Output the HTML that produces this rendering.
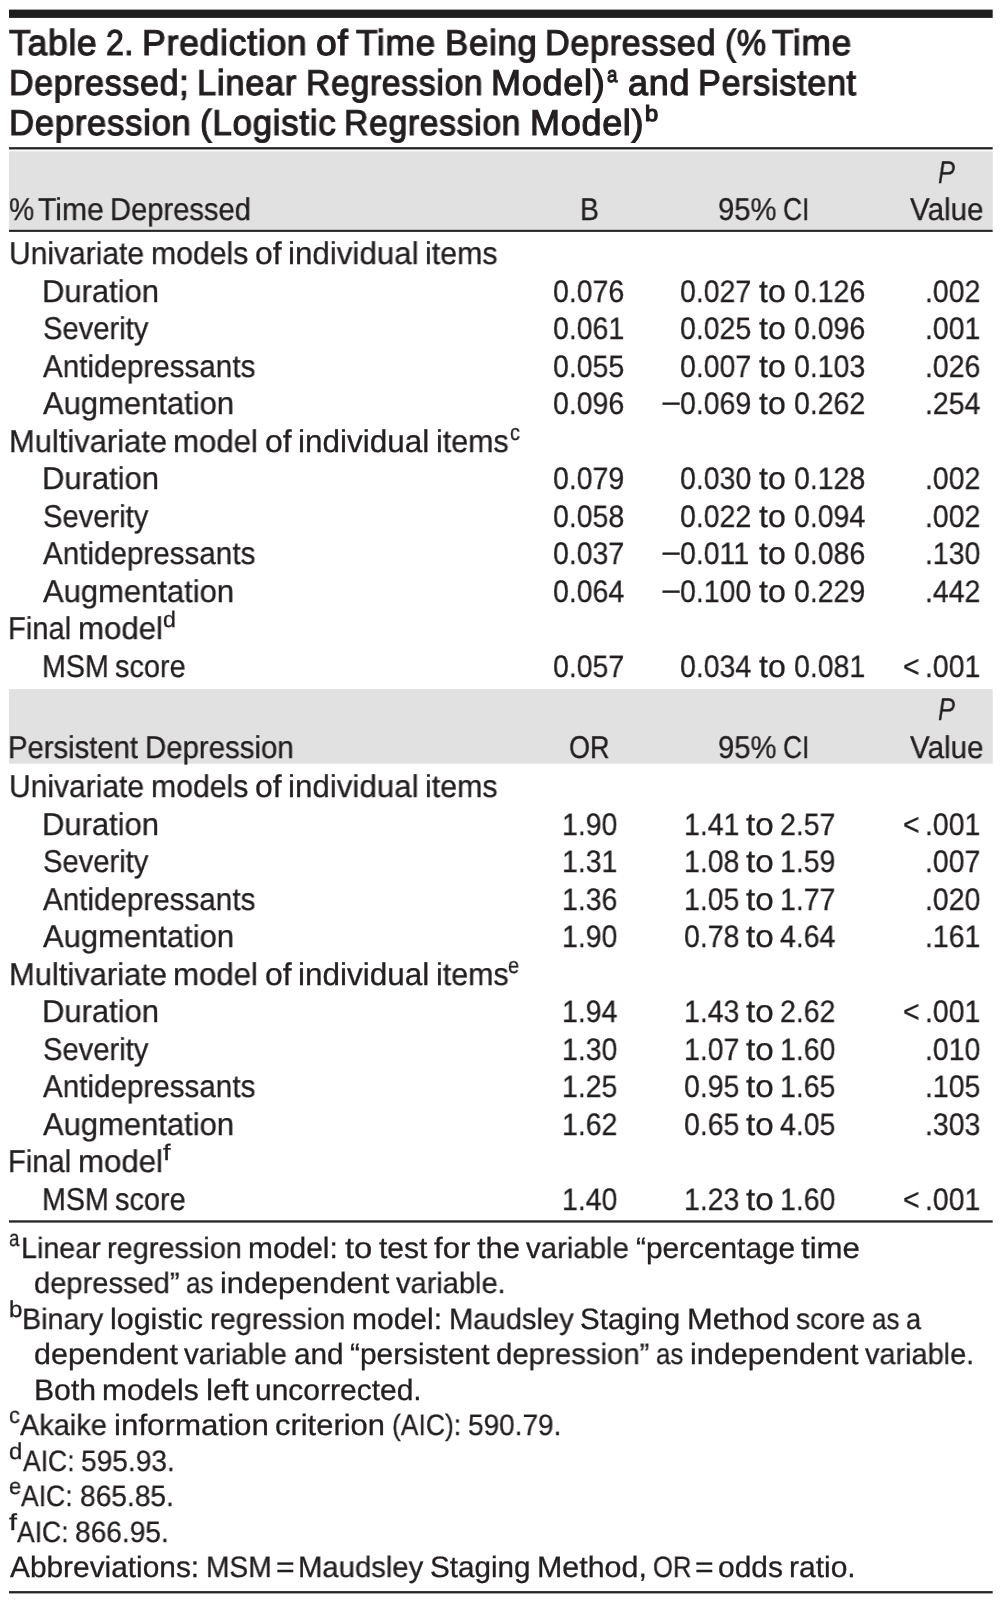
<!DOCTYPE html>
<html lang="en"><head><meta charset="utf-8"><title>Table 2</title>
<style>
html,body{margin:0;padding:0;background:#fff;}
body{width:1001px;height:1602px;position:relative;overflow:hidden;font-family:"Liberation Sans",sans-serif;color:#231f20;}
.t{position:absolute;white-space:pre;transform-origin:0 0;line-height:1;text-rendering:geometricPrecision;font-kerning:normal;will-change:transform;}
.r{position:absolute;}
</style></head><body>
<svg class="r" style="left:0;top:0" width="1001" height="1602" viewBox="0 0 1001 1602">
<rect x="9" y="9.6" width="983.7" height="8.3" fill="#1f1e1e"/>
<rect x="9" y="147.15" width="983.7" height="2.3" fill="#262525"/>
<rect x="9" y="151.3" width="983.7" height="78.6" fill="#e1e1e1"/>
<rect x="9" y="229.8" width="983.7" height="2.1" fill="#262525"/>
<rect x="9" y="689.1" width="983.7" height="74.6" fill="#e1e1e1"/>
<rect x="9" y="1220.3" width="983.7" height="2.3" fill="#262525"/>
<rect x="9" y="1591.1" width="983.7" height="2.3" fill="#262525"/>
</svg>
<div class="t" style="left:9.29px;top:25.00px;font-size:36px;-webkit-text-stroke:1.2px #231f20;letter-spacing:0.7px;transform:scaleX(0.9874);color:#231f20">Table</div>
<div class="t" style="left:105.93px;top:25.00px;font-size:36px;-webkit-text-stroke:1.2px #231f20;letter-spacing:0.7px;transform:scaleX(0.8863);color:#231f20">2.</div>
<div class="t" style="left:142.00px;top:25.00px;font-size:36px;-webkit-text-stroke:1.2px #231f20;letter-spacing:0.7px;transform:scaleX(0.9901);color:#231f20">Prediction</div>
<div class="t" style="left:315.65px;top:25.00px;font-size:36px;-webkit-text-stroke:1.2px #231f20;letter-spacing:0.7px;transform:scaleX(1.0353);color:#231f20">of</div>
<div class="t" style="left:356.40px;top:25.00px;font-size:36px;-webkit-text-stroke:1.2px #231f20;letter-spacing:0.7px;transform:scaleX(0.9814);color:#231f20">Time</div>
<div class="t" style="left:444.56px;top:25.00px;font-size:36px;-webkit-text-stroke:1.2px #231f20;letter-spacing:0.7px;transform:scaleX(0.9681);color:#231f20">Being</div>
<div class="t" style="left:545.30px;top:25.00px;font-size:36px;-webkit-text-stroke:1.2px #231f20;letter-spacing:0.7px;transform:scaleX(0.9484);color:#231f20">Depressed</div>
<div class="t" style="left:724.60px;top:25.00px;font-size:36px;-webkit-text-stroke:1.2px #231f20;letter-spacing:0.7px;transform:scaleX(0.9171);color:#231f20">(%</div>
<div class="t" style="left:772.04px;top:25.00px;font-size:36px;-webkit-text-stroke:1.2px #231f20;letter-spacing:0.7px;transform:scaleX(0.9814);color:#231f20">Time</div>
<div class="t" style="left:8.93px;top:65.00px;font-size:36px;-webkit-text-stroke:1.2px #231f20;letter-spacing:0.7px;transform:scaleX(0.9427);color:#231f20">Depressed;</div>
<div class="t" style="left:197.34px;top:65.00px;font-size:36px;-webkit-text-stroke:1.2px #231f20;letter-spacing:0.7px;transform:scaleX(0.9597);color:#231f20">Linear</div>
<div class="t" style="left:305.67px;top:65.00px;font-size:36px;-webkit-text-stroke:1.2px #231f20;letter-spacing:0.7px;transform:scaleX(0.9379);color:#231f20">Regression</div>
<div class="t" style="left:491.27px;top:65.00px;font-size:36px;-webkit-text-stroke:1.2px #231f20;letter-spacing:0.7px;transform:scaleX(1.0010);color:#231f20">Model)</div>
<div class="t" style="left:607.02px;top:64.00px;font-size:22px;-webkit-text-stroke:1.2px #231f20;letter-spacing:0.7px;transform:scaleX(0.8483);color:#231f20">a</div>
<div class="t" style="left:628.07px;top:65.00px;font-size:36px;-webkit-text-stroke:1.2px #231f20;letter-spacing:0.7px;transform:scaleX(0.9962);color:#231f20">and</div>
<div class="t" style="left:698.21px;top:65.00px;font-size:36px;-webkit-text-stroke:1.2px #231f20;letter-spacing:0.7px;transform:scaleX(0.9502);color:#231f20">Persistent</div>
<div class="t" style="left:8.94px;top:105.00px;font-size:36px;-webkit-text-stroke:1.2px #231f20;letter-spacing:0.7px;transform:scaleX(0.9651);color:#231f20">Depression</div>
<div class="t" style="left:199.67px;top:105.00px;font-size:36px;-webkit-text-stroke:1.2px #231f20;letter-spacing:0.7px;transform:scaleX(0.9714);color:#231f20">(Logistic</div>
<div class="t" style="left:344.25px;top:105.00px;font-size:36px;-webkit-text-stroke:1.2px #231f20;letter-spacing:0.7px;transform:scaleX(0.9367);color:#231f20">Regression</div>
<div class="t" style="left:529.62px;top:105.00px;font-size:36px;-webkit-text-stroke:1.2px #231f20;letter-spacing:0.7px;transform:scaleX(0.9997);color:#231f20">Model)</div>
<div class="t" style="left:645.42px;top:103.00px;font-size:22px;-webkit-text-stroke:1.2px #231f20;letter-spacing:0.7px;transform:scaleX(1.0767);color:#231f20">b</div>
<div class="t" style="left:8.94px;top:194.00px;font-size:31.5px;-webkit-text-stroke:0.3px #231f20;transform:scaleX(0.9012);color:#231f20">%</div>
<div class="t" style="left:37.86px;top:194.00px;font-size:31.5px;-webkit-text-stroke:0.3px #231f20;transform:scaleX(0.9567);color:#231f20">Time</div>
<div class="t" style="left:110.48px;top:194.00px;font-size:31.5px;-webkit-text-stroke:0.3px #231f20;transform:scaleX(0.9251);color:#231f20">Depressed</div>
<div class="t" style="left:579.77px;top:194.00px;font-size:31.5px;-webkit-text-stroke:0.3px #231f20;transform:scaleX(0.9004);color:#231f20">B</div>
<div class="t" style="left:717.80px;top:194.00px;font-size:31.5px;-webkit-text-stroke:0.3px #231f20;transform:scaleX(0.9288);color:#231f20">95%</div>
<div class="t" style="left:783.18px;top:194.00px;font-size:31.5px;-webkit-text-stroke:0.3px #231f20;transform:scaleX(0.8375);color:#231f20">CI</div>
<div class="t" style="left:938.42px;top:157.00px;font-size:31.5px;font-style:italic;-webkit-text-stroke:0.3px #231f20;transform:scaleX(0.8062);color:#231f20">P</div>
<div class="t" style="left:910.07px;top:194.00px;font-size:31.5px;-webkit-text-stroke:0.3px #231f20;transform:scaleX(0.9388);color:#231f20">Value</div>
<div class="t" style="left:8.38px;top:732.00px;font-size:31.5px;-webkit-text-stroke:0.3px #231f20;transform:scaleX(0.9286);color:#231f20">Persistent</div>
<div class="t" style="left:145.16px;top:732.00px;font-size:31.5px;-webkit-text-stroke:0.3px #231f20;transform:scaleX(0.9335);color:#231f20">Depression</div>
<div class="t" style="left:568.72px;top:732.00px;font-size:31.5px;-webkit-text-stroke:0.3px #231f20;transform:scaleX(0.8578);color:#231f20">OR</div>
<div class="t" style="left:717.80px;top:732.00px;font-size:31.5px;-webkit-text-stroke:0.3px #231f20;transform:scaleX(0.9288);color:#231f20">95%</div>
<div class="t" style="left:783.18px;top:732.00px;font-size:31.5px;-webkit-text-stroke:0.3px #231f20;transform:scaleX(0.8375);color:#231f20">CI</div>
<div class="t" style="left:938.42px;top:694.00px;font-size:31.5px;font-style:italic;-webkit-text-stroke:0.3px #231f20;transform:scaleX(0.8062);color:#231f20">P</div>
<div class="t" style="left:910.07px;top:732.00px;font-size:31.5px;-webkit-text-stroke:0.3px #231f20;transform:scaleX(0.9388);color:#231f20">Value</div>
<div class="t" style="left:8.73px;top:238.00px;font-size:31.5px;-webkit-text-stroke:0.3px #231f20;transform:scaleX(0.9527);color:#231f20">Univariate</div>
<div class="t" style="left:150.53px;top:238.00px;font-size:31.5px;-webkit-text-stroke:0.3px #231f20;transform:scaleX(0.9588);color:#231f20">models</div>
<div class="t" style="left:254.59px;top:238.00px;font-size:31.5px;-webkit-text-stroke:0.3px #231f20;transform:scaleX(1.0115);color:#231f20">of</div>
<div class="t" style="left:287.88px;top:238.00px;font-size:31.5px;-webkit-text-stroke:0.3px #231f20;transform:scaleX(0.9951);color:#231f20">individual</div>
<div class="t" style="left:425.29px;top:238.00px;font-size:31.5px;-webkit-text-stroke:0.3px #231f20;transform:scaleX(0.9643);color:#231f20">items</div>
<div class="t" style="left:42.06px;top:276.00px;font-size:31.5px;-webkit-text-stroke:0.3px #231f20;transform:scaleX(0.9830);color:#231f20">Duration</div>
<div class="t" style="left:42.68px;top:313.00px;font-size:31.5px;-webkit-text-stroke:0.3px #231f20;transform:scaleX(0.9261);color:#231f20">Severity</div>
<div class="t" style="left:43.04px;top:351.00px;font-size:31.5px;-webkit-text-stroke:0.3px #231f20;transform:scaleX(0.9400);color:#231f20">Antidepressants</div>
<div class="t" style="left:43.04px;top:388.00px;font-size:31.5px;-webkit-text-stroke:0.3px #231f20;transform:scaleX(0.9834);color:#231f20">Augmentation</div>
<div class="t" style="left:42.06px;top:463.00px;font-size:31.5px;-webkit-text-stroke:0.3px #231f20;transform:scaleX(0.9830);color:#231f20">Duration</div>
<div class="t" style="left:42.68px;top:501.00px;font-size:31.5px;-webkit-text-stroke:0.3px #231f20;transform:scaleX(0.9261);color:#231f20">Severity</div>
<div class="t" style="left:43.04px;top:538.00px;font-size:31.5px;-webkit-text-stroke:0.3px #231f20;transform:scaleX(0.9400);color:#231f20">Antidepressants</div>
<div class="t" style="left:43.04px;top:576.00px;font-size:31.5px;-webkit-text-stroke:0.3px #231f20;transform:scaleX(0.9834);color:#231f20">Augmentation</div>
<div class="t" style="left:8.59px;top:426.00px;font-size:31.5px;-webkit-text-stroke:0.3px #231f20;transform:scaleX(0.9813);color:#231f20">Multivariate</div>
<div class="t" style="left:173.35px;top:426.00px;font-size:31.5px;-webkit-text-stroke:0.3px #231f20;transform:scaleX(0.9901);color:#231f20">model</div>
<div class="t" style="left:265.00px;top:426.00px;font-size:31.5px;-webkit-text-stroke:0.3px #231f20;transform:scaleX(1.0127);color:#231f20">of</div>
<div class="t" style="left:298.32px;top:426.00px;font-size:31.5px;-webkit-text-stroke:0.3px #231f20;transform:scaleX(0.9964);color:#231f20">individual</div>
<div class="t" style="left:435.90px;top:426.00px;font-size:31.5px;-webkit-text-stroke:0.3px #231f20;transform:scaleX(0.9654);color:#231f20">items</div>
<div class="t" style="left:510.06px;top:422.00px;font-size:22.5px;-webkit-text-stroke:0.3px #231f20;transform:scaleX(0.8800);color:#231f20">c</div>
<div class="t" style="left:8.08px;top:613.00px;font-size:31.5px;-webkit-text-stroke:0.3px #231f20;transform:scaleX(0.9250);color:#231f20">Final</div>
<div class="t" style="left:77.96px;top:613.00px;font-size:31.5px;-webkit-text-stroke:0.3px #231f20;transform:scaleX(0.9909);color:#231f20">model</div>
<div class="t" style="left:162.83px;top:609.00px;font-size:22.5px;-webkit-text-stroke:0.3px #231f20;transform:scaleX(1.0276);color:#231f20">d</div>
<div class="t" style="left:41.57px;top:651.00px;font-size:31.5px;-webkit-text-stroke:0.3px #231f20;transform:scaleX(0.9094);color:#231f20">MSM</div>
<div class="t" style="left:115.16px;top:651.00px;font-size:31.5px;-webkit-text-stroke:0.3px #231f20;transform:scaleX(0.9173);color:#231f20">score</div>
<div class="t" style="left:553.49px;top:276.00px;font-size:31px;-webkit-text-stroke:0.3px #231f20;transform:scaleX(0.9194);color:#231f20">0.076</div>
<div class="t" style="left:680.39px;top:276.00px;font-size:31px;-webkit-text-stroke:0.3px #231f20;transform:scaleX(0.9194);color:#231f20">0.027</div>
<div class="t" style="left:758.92px;top:276.00px;font-size:31.5px;-webkit-text-stroke:0.3px #231f20;transform:scaleX(1.0171);color:#231f20">to</div>
<div class="t" style="left:793.69px;top:276.00px;font-size:31px;-webkit-text-stroke:0.3px #231f20;transform:scaleX(0.9194);color:#231f20">0.126</div>
<div class="t" style="left:925.20px;top:276.00px;font-size:31px;-webkit-text-stroke:0.3px #231f20;transform:scaleX(0.9194);color:#231f20">.002</div>
<div class="t" style="left:553.49px;top:313.00px;font-size:31px;-webkit-text-stroke:0.3px #231f20;transform:scaleX(0.9194);color:#231f20">0.061</div>
<div class="t" style="left:680.39px;top:313.00px;font-size:31px;-webkit-text-stroke:0.3px #231f20;transform:scaleX(0.9194);color:#231f20">0.025</div>
<div class="t" style="left:758.92px;top:313.00px;font-size:31.5px;-webkit-text-stroke:0.3px #231f20;transform:scaleX(1.0171);color:#231f20">to</div>
<div class="t" style="left:793.69px;top:313.00px;font-size:31px;-webkit-text-stroke:0.3px #231f20;transform:scaleX(0.9194);color:#231f20">0.096</div>
<div class="t" style="left:925.20px;top:313.00px;font-size:31px;-webkit-text-stroke:0.3px #231f20;transform:scaleX(0.9194);color:#231f20">.001</div>
<div class="t" style="left:553.49px;top:351.00px;font-size:31px;-webkit-text-stroke:0.3px #231f20;transform:scaleX(0.9194);color:#231f20">0.055</div>
<div class="t" style="left:680.39px;top:351.00px;font-size:31px;-webkit-text-stroke:0.3px #231f20;transform:scaleX(0.9194);color:#231f20">0.007</div>
<div class="t" style="left:758.92px;top:351.00px;font-size:31.5px;-webkit-text-stroke:0.3px #231f20;transform:scaleX(1.0171);color:#231f20">to</div>
<div class="t" style="left:793.69px;top:351.00px;font-size:31px;-webkit-text-stroke:0.3px #231f20;transform:scaleX(0.9194);color:#231f20">0.103</div>
<div class="t" style="left:925.20px;top:351.00px;font-size:31px;-webkit-text-stroke:0.3px #231f20;transform:scaleX(0.9194);color:#231f20">.026</div>
<div class="t" style="left:553.49px;top:388.00px;font-size:31px;-webkit-text-stroke:0.3px #231f20;transform:scaleX(0.9194);color:#231f20">0.096</div>
<div class="t" style="left:661.30px;top:388.00px;font-size:31px;-webkit-text-stroke:0.3px #231f20;transform:scaleX(1.1150);color:#231f20">−</div>
<div class="t" style="left:680.39px;top:388.00px;font-size:31px;-webkit-text-stroke:0.3px #231f20;transform:scaleX(0.9194);color:#231f20">0.069</div>
<div class="t" style="left:758.92px;top:388.00px;font-size:31.5px;-webkit-text-stroke:0.3px #231f20;transform:scaleX(1.0171);color:#231f20">to</div>
<div class="t" style="left:793.69px;top:388.00px;font-size:31px;-webkit-text-stroke:0.3px #231f20;transform:scaleX(0.9194);color:#231f20">0.262</div>
<div class="t" style="left:925.20px;top:388.00px;font-size:31px;-webkit-text-stroke:0.3px #231f20;transform:scaleX(0.9194);color:#231f20">.254</div>
<div class="t" style="left:553.49px;top:463.00px;font-size:31px;-webkit-text-stroke:0.3px #231f20;transform:scaleX(0.9194);color:#231f20">0.079</div>
<div class="t" style="left:680.39px;top:463.00px;font-size:31px;-webkit-text-stroke:0.3px #231f20;transform:scaleX(0.9194);color:#231f20">0.030</div>
<div class="t" style="left:758.92px;top:463.00px;font-size:31.5px;-webkit-text-stroke:0.3px #231f20;transform:scaleX(1.0171);color:#231f20">to</div>
<div class="t" style="left:793.69px;top:463.00px;font-size:31px;-webkit-text-stroke:0.3px #231f20;transform:scaleX(0.9194);color:#231f20">0.128</div>
<div class="t" style="left:925.20px;top:463.00px;font-size:31px;-webkit-text-stroke:0.3px #231f20;transform:scaleX(0.9194);color:#231f20">.002</div>
<div class="t" style="left:553.49px;top:501.00px;font-size:31px;-webkit-text-stroke:0.3px #231f20;transform:scaleX(0.9194);color:#231f20">0.058</div>
<div class="t" style="left:680.39px;top:501.00px;font-size:31px;-webkit-text-stroke:0.3px #231f20;transform:scaleX(0.9194);color:#231f20">0.022</div>
<div class="t" style="left:758.92px;top:501.00px;font-size:31.5px;-webkit-text-stroke:0.3px #231f20;transform:scaleX(1.0171);color:#231f20">to</div>
<div class="t" style="left:793.69px;top:501.00px;font-size:31px;-webkit-text-stroke:0.3px #231f20;transform:scaleX(0.9194);color:#231f20">0.094</div>
<div class="t" style="left:925.20px;top:501.00px;font-size:31px;-webkit-text-stroke:0.3px #231f20;transform:scaleX(0.9194);color:#231f20">.002</div>
<div class="t" style="left:553.49px;top:538.00px;font-size:31px;-webkit-text-stroke:0.3px #231f20;transform:scaleX(0.9194);color:#231f20">0.037</div>
<div class="t" style="left:661.30px;top:538.00px;font-size:31px;-webkit-text-stroke:0.3px #231f20;transform:scaleX(1.1150);color:#231f20">−</div>
<div class="t" style="left:680.39px;top:538.00px;font-size:31px;-webkit-text-stroke:0.3px #231f20;transform:scaleX(0.9194);color:#231f20">0.011</div>
<div class="t" style="left:758.92px;top:538.00px;font-size:31.5px;-webkit-text-stroke:0.3px #231f20;transform:scaleX(1.0171);color:#231f20">to</div>
<div class="t" style="left:793.69px;top:538.00px;font-size:31px;-webkit-text-stroke:0.3px #231f20;transform:scaleX(0.9194);color:#231f20">0.086</div>
<div class="t" style="left:925.20px;top:538.00px;font-size:31px;-webkit-text-stroke:0.3px #231f20;transform:scaleX(0.9194);color:#231f20">.130</div>
<div class="t" style="left:553.49px;top:576.00px;font-size:31px;-webkit-text-stroke:0.3px #231f20;transform:scaleX(0.9194);color:#231f20">0.064</div>
<div class="t" style="left:661.30px;top:576.00px;font-size:31px;-webkit-text-stroke:0.3px #231f20;transform:scaleX(1.1150);color:#231f20">−</div>
<div class="t" style="left:680.39px;top:576.00px;font-size:31px;-webkit-text-stroke:0.3px #231f20;transform:scaleX(0.9194);color:#231f20">0.100</div>
<div class="t" style="left:758.92px;top:576.00px;font-size:31.5px;-webkit-text-stroke:0.3px #231f20;transform:scaleX(1.0171);color:#231f20">to</div>
<div class="t" style="left:793.69px;top:576.00px;font-size:31px;-webkit-text-stroke:0.3px #231f20;transform:scaleX(0.9194);color:#231f20">0.229</div>
<div class="t" style="left:925.20px;top:576.00px;font-size:31px;-webkit-text-stroke:0.3px #231f20;transform:scaleX(0.9194);color:#231f20">.442</div>
<div class="t" style="left:553.49px;top:651.00px;font-size:31px;-webkit-text-stroke:0.3px #231f20;transform:scaleX(0.9194);color:#231f20">0.057</div>
<div class="t" style="left:680.39px;top:651.00px;font-size:31px;-webkit-text-stroke:0.3px #231f20;transform:scaleX(0.9194);color:#231f20">0.034</div>
<div class="t" style="left:758.92px;top:651.00px;font-size:31.5px;-webkit-text-stroke:0.3px #231f20;transform:scaleX(1.0171);color:#231f20">to</div>
<div class="t" style="left:793.69px;top:651.00px;font-size:31px;-webkit-text-stroke:0.3px #231f20;transform:scaleX(0.9194);color:#231f20">0.081</div>
<div class="t" style="left:903.40px;top:651.00px;font-size:31px;-webkit-text-stroke:0.3px #231f20;transform:scaleX(0.9159);color:#231f20">&lt;</div>
<div class="t" style="left:925.20px;top:651.00px;font-size:31px;-webkit-text-stroke:0.3px #231f20;transform:scaleX(0.9194);color:#231f20">.001</div>
<div class="t" style="left:8.73px;top:771.00px;font-size:31.5px;-webkit-text-stroke:0.3px #231f20;transform:scaleX(0.9527);color:#231f20">Univariate</div>
<div class="t" style="left:150.53px;top:771.00px;font-size:31.5px;-webkit-text-stroke:0.3px #231f20;transform:scaleX(0.9588);color:#231f20">models</div>
<div class="t" style="left:254.59px;top:771.00px;font-size:31.5px;-webkit-text-stroke:0.3px #231f20;transform:scaleX(1.0115);color:#231f20">of</div>
<div class="t" style="left:287.88px;top:771.00px;font-size:31.5px;-webkit-text-stroke:0.3px #231f20;transform:scaleX(0.9951);color:#231f20">individual</div>
<div class="t" style="left:425.29px;top:771.00px;font-size:31.5px;-webkit-text-stroke:0.3px #231f20;transform:scaleX(0.9643);color:#231f20">items</div>
<div class="t" style="left:42.06px;top:809.00px;font-size:31.5px;-webkit-text-stroke:0.3px #231f20;transform:scaleX(0.9830);color:#231f20">Duration</div>
<div class="t" style="left:42.68px;top:846.00px;font-size:31.5px;-webkit-text-stroke:0.3px #231f20;transform:scaleX(0.9261);color:#231f20">Severity</div>
<div class="t" style="left:43.04px;top:884.00px;font-size:31.5px;-webkit-text-stroke:0.3px #231f20;transform:scaleX(0.9400);color:#231f20">Antidepressants</div>
<div class="t" style="left:43.04px;top:921.00px;font-size:31.5px;-webkit-text-stroke:0.3px #231f20;transform:scaleX(0.9834);color:#231f20">Augmentation</div>
<div class="t" style="left:42.06px;top:996.00px;font-size:31.5px;-webkit-text-stroke:0.3px #231f20;transform:scaleX(0.9830);color:#231f20">Duration</div>
<div class="t" style="left:42.68px;top:1034.00px;font-size:31.5px;-webkit-text-stroke:0.3px #231f20;transform:scaleX(0.9261);color:#231f20">Severity</div>
<div class="t" style="left:43.04px;top:1071.00px;font-size:31.5px;-webkit-text-stroke:0.3px #231f20;transform:scaleX(0.9400);color:#231f20">Antidepressants</div>
<div class="t" style="left:43.04px;top:1109.00px;font-size:31.5px;-webkit-text-stroke:0.3px #231f20;transform:scaleX(0.9834);color:#231f20">Augmentation</div>
<div class="t" style="left:8.59px;top:959.00px;font-size:31.5px;-webkit-text-stroke:0.3px #231f20;transform:scaleX(0.9813);color:#231f20">Multivariate</div>
<div class="t" style="left:173.35px;top:959.00px;font-size:31.5px;-webkit-text-stroke:0.3px #231f20;transform:scaleX(0.9901);color:#231f20">model</div>
<div class="t" style="left:265.00px;top:959.00px;font-size:31.5px;-webkit-text-stroke:0.3px #231f20;transform:scaleX(1.0127);color:#231f20">of</div>
<div class="t" style="left:298.32px;top:959.00px;font-size:31.5px;-webkit-text-stroke:0.3px #231f20;transform:scaleX(0.9964);color:#231f20">individual</div>
<div class="t" style="left:435.90px;top:959.00px;font-size:31.5px;-webkit-text-stroke:0.3px #231f20;transform:scaleX(0.9654);color:#231f20">items</div>
<div class="t" style="left:508.16px;top:955.00px;font-size:22.5px;-webkit-text-stroke:0.3px #231f20;transform:scaleX(0.8800);color:#231f20">e</div>
<div class="t" style="left:8.08px;top:1146.00px;font-size:31.5px;-webkit-text-stroke:0.3px #231f20;transform:scaleX(0.9250);color:#231f20">Final</div>
<div class="t" style="left:77.96px;top:1146.00px;font-size:31.5px;-webkit-text-stroke:0.3px #231f20;transform:scaleX(0.9909);color:#231f20">model</div>
<div class="t" style="left:162.82px;top:1142.00px;font-size:22.5px;-webkit-text-stroke:0.3px #231f20;transform:scaleX(1.2040);color:#231f20">f</div>
<div class="t" style="left:41.57px;top:1184.00px;font-size:31.5px;-webkit-text-stroke:0.3px #231f20;transform:scaleX(0.9094);color:#231f20">MSM</div>
<div class="t" style="left:115.16px;top:1184.00px;font-size:31.5px;-webkit-text-stroke:0.3px #231f20;transform:scaleX(0.9173);color:#231f20">score</div>
<div class="t" style="left:561.83px;top:809.00px;font-size:31px;-webkit-text-stroke:0.3px #231f20;transform:scaleX(0.9194);color:#231f20">1.90</div>
<div class="t" style="left:684.49px;top:809.00px;font-size:31px;-webkit-text-stroke:0.3px #231f20;transform:scaleX(0.9194);color:#231f20">1.41</div>
<div class="t" style="left:746.30px;top:809.00px;font-size:31.5px;-webkit-text-stroke:0.3px #231f20;transform:scaleX(1.0538);color:#231f20">to</div>
<div class="t" style="left:780.09px;top:809.00px;font-size:31px;-webkit-text-stroke:0.3px #231f20;transform:scaleX(0.9194);color:#231f20">2.57</div>
<div class="t" style="left:903.40px;top:809.00px;font-size:31px;-webkit-text-stroke:0.3px #231f20;transform:scaleX(0.9159);color:#231f20">&lt;</div>
<div class="t" style="left:925.20px;top:809.00px;font-size:31px;-webkit-text-stroke:0.3px #231f20;transform:scaleX(0.9194);color:#231f20">.001</div>
<div class="t" style="left:561.83px;top:846.00px;font-size:31px;-webkit-text-stroke:0.3px #231f20;transform:scaleX(0.9194);color:#231f20">1.31</div>
<div class="t" style="left:684.49px;top:846.00px;font-size:31px;-webkit-text-stroke:0.3px #231f20;transform:scaleX(0.9194);color:#231f20">1.08</div>
<div class="t" style="left:746.30px;top:846.00px;font-size:31.5px;-webkit-text-stroke:0.3px #231f20;transform:scaleX(1.0538);color:#231f20">to</div>
<div class="t" style="left:780.09px;top:846.00px;font-size:31px;-webkit-text-stroke:0.3px #231f20;transform:scaleX(0.9194);color:#231f20">1.59</div>
<div class="t" style="left:925.20px;top:846.00px;font-size:31px;-webkit-text-stroke:0.3px #231f20;transform:scaleX(0.9194);color:#231f20">.007</div>
<div class="t" style="left:561.83px;top:884.00px;font-size:31px;-webkit-text-stroke:0.3px #231f20;transform:scaleX(0.9194);color:#231f20">1.36</div>
<div class="t" style="left:684.49px;top:884.00px;font-size:31px;-webkit-text-stroke:0.3px #231f20;transform:scaleX(0.9194);color:#231f20">1.05</div>
<div class="t" style="left:746.30px;top:884.00px;font-size:31.5px;-webkit-text-stroke:0.3px #231f20;transform:scaleX(1.0538);color:#231f20">to</div>
<div class="t" style="left:780.09px;top:884.00px;font-size:31px;-webkit-text-stroke:0.3px #231f20;transform:scaleX(0.9194);color:#231f20">1.77</div>
<div class="t" style="left:925.20px;top:884.00px;font-size:31px;-webkit-text-stroke:0.3px #231f20;transform:scaleX(0.9194);color:#231f20">.020</div>
<div class="t" style="left:561.83px;top:921.00px;font-size:31px;-webkit-text-stroke:0.3px #231f20;transform:scaleX(0.9194);color:#231f20">1.90</div>
<div class="t" style="left:684.49px;top:921.00px;font-size:31px;-webkit-text-stroke:0.3px #231f20;transform:scaleX(0.9194);color:#231f20">0.78</div>
<div class="t" style="left:746.30px;top:921.00px;font-size:31.5px;-webkit-text-stroke:0.3px #231f20;transform:scaleX(1.0538);color:#231f20">to</div>
<div class="t" style="left:780.09px;top:921.00px;font-size:31px;-webkit-text-stroke:0.3px #231f20;transform:scaleX(0.9194);color:#231f20">4.64</div>
<div class="t" style="left:925.20px;top:921.00px;font-size:31px;-webkit-text-stroke:0.3px #231f20;transform:scaleX(0.9194);color:#231f20">.161</div>
<div class="t" style="left:561.83px;top:996.00px;font-size:31px;-webkit-text-stroke:0.3px #231f20;transform:scaleX(0.9194);color:#231f20">1.94</div>
<div class="t" style="left:684.49px;top:996.00px;font-size:31px;-webkit-text-stroke:0.3px #231f20;transform:scaleX(0.9194);color:#231f20">1.43</div>
<div class="t" style="left:746.30px;top:996.00px;font-size:31.5px;-webkit-text-stroke:0.3px #231f20;transform:scaleX(1.0538);color:#231f20">to</div>
<div class="t" style="left:780.09px;top:996.00px;font-size:31px;-webkit-text-stroke:0.3px #231f20;transform:scaleX(0.9194);color:#231f20">2.62</div>
<div class="t" style="left:903.40px;top:996.00px;font-size:31px;-webkit-text-stroke:0.3px #231f20;transform:scaleX(0.9159);color:#231f20">&lt;</div>
<div class="t" style="left:925.20px;top:996.00px;font-size:31px;-webkit-text-stroke:0.3px #231f20;transform:scaleX(0.9194);color:#231f20">.001</div>
<div class="t" style="left:561.83px;top:1034.00px;font-size:31px;-webkit-text-stroke:0.3px #231f20;transform:scaleX(0.9194);color:#231f20">1.30</div>
<div class="t" style="left:684.49px;top:1034.00px;font-size:31px;-webkit-text-stroke:0.3px #231f20;transform:scaleX(0.9194);color:#231f20">1.07</div>
<div class="t" style="left:746.30px;top:1034.00px;font-size:31.5px;-webkit-text-stroke:0.3px #231f20;transform:scaleX(1.0538);color:#231f20">to</div>
<div class="t" style="left:780.09px;top:1034.00px;font-size:31px;-webkit-text-stroke:0.3px #231f20;transform:scaleX(0.9194);color:#231f20">1.60</div>
<div class="t" style="left:925.20px;top:1034.00px;font-size:31px;-webkit-text-stroke:0.3px #231f20;transform:scaleX(0.9194);color:#231f20">.010</div>
<div class="t" style="left:561.83px;top:1071.00px;font-size:31px;-webkit-text-stroke:0.3px #231f20;transform:scaleX(0.9194);color:#231f20">1.25</div>
<div class="t" style="left:684.49px;top:1071.00px;font-size:31px;-webkit-text-stroke:0.3px #231f20;transform:scaleX(0.9194);color:#231f20">0.95</div>
<div class="t" style="left:746.30px;top:1071.00px;font-size:31.5px;-webkit-text-stroke:0.3px #231f20;transform:scaleX(1.0538);color:#231f20">to</div>
<div class="t" style="left:780.09px;top:1071.00px;font-size:31px;-webkit-text-stroke:0.3px #231f20;transform:scaleX(0.9194);color:#231f20">1.65</div>
<div class="t" style="left:925.20px;top:1071.00px;font-size:31px;-webkit-text-stroke:0.3px #231f20;transform:scaleX(0.9194);color:#231f20">.105</div>
<div class="t" style="left:561.83px;top:1109.00px;font-size:31px;-webkit-text-stroke:0.3px #231f20;transform:scaleX(0.9194);color:#231f20">1.62</div>
<div class="t" style="left:684.49px;top:1109.00px;font-size:31px;-webkit-text-stroke:0.3px #231f20;transform:scaleX(0.9194);color:#231f20">0.65</div>
<div class="t" style="left:746.30px;top:1109.00px;font-size:31.5px;-webkit-text-stroke:0.3px #231f20;transform:scaleX(1.0538);color:#231f20">to</div>
<div class="t" style="left:780.09px;top:1109.00px;font-size:31px;-webkit-text-stroke:0.3px #231f20;transform:scaleX(0.9194);color:#231f20">4.05</div>
<div class="t" style="left:925.20px;top:1109.00px;font-size:31px;-webkit-text-stroke:0.3px #231f20;transform:scaleX(0.9194);color:#231f20">.303</div>
<div class="t" style="left:561.83px;top:1184.00px;font-size:31px;-webkit-text-stroke:0.3px #231f20;transform:scaleX(0.9194);color:#231f20">1.40</div>
<div class="t" style="left:684.49px;top:1184.00px;font-size:31px;-webkit-text-stroke:0.3px #231f20;transform:scaleX(0.9194);color:#231f20">1.23</div>
<div class="t" style="left:746.30px;top:1184.00px;font-size:31.5px;-webkit-text-stroke:0.3px #231f20;transform:scaleX(1.0538);color:#231f20">to</div>
<div class="t" style="left:780.09px;top:1184.00px;font-size:31px;-webkit-text-stroke:0.3px #231f20;transform:scaleX(0.9194);color:#231f20">1.60</div>
<div class="t" style="left:903.40px;top:1184.00px;font-size:31px;-webkit-text-stroke:0.3px #231f20;transform:scaleX(0.9159);color:#231f20">&lt;</div>
<div class="t" style="left:925.20px;top:1184.00px;font-size:31px;-webkit-text-stroke:0.3px #231f20;transform:scaleX(0.9194);color:#231f20">.001</div>
<div class="t" style="left:9.01px;top:1227.00px;font-size:23px;-webkit-text-stroke:0.3px #231f20;transform:scaleX(0.8122);color:#231f20">a</div>
<div class="t" style="left:20.63px;top:1234.00px;font-size:29.5px;-webkit-text-stroke:0.3px #231f20;transform:scaleX(0.9731);color:#231f20">Linear</div>
<div class="t" style="left:107.02px;top:1234.00px;font-size:29.5px;-webkit-text-stroke:0.3px #231f20;transform:scaleX(0.9793);color:#231f20">regression</div>
<div class="t" style="left:248.48px;top:1234.00px;font-size:29.5px;-webkit-text-stroke:0.3px #231f20;transform:scaleX(1.0135);color:#231f20">model:</div>
<div class="t" style="left:344.80px;top:1234.00px;font-size:29.5px;-webkit-text-stroke:0.3px #231f20;transform:scaleX(1.1100);color:#231f20">to</div>
<div class="t" style="left:378.70px;top:1234.00px;font-size:29.5px;-webkit-text-stroke:0.3px #231f20;transform:scaleX(1.0175);color:#231f20">test</div>
<div class="t" style="left:433.67px;top:1234.00px;font-size:29.5px;-webkit-text-stroke:0.3px #231f20;transform:scaleX(1.0528);color:#231f20">for</div>
<div class="t" style="left:476.51px;top:1234.00px;font-size:29.5px;-webkit-text-stroke:0.3px #231f20;transform:scaleX(1.0497);color:#231f20">the</div>
<div class="t" style="left:526.15px;top:1234.00px;font-size:29.5px;-webkit-text-stroke:0.3px #231f20;transform:scaleX(0.9951);color:#231f20">variable</div>
<div class="t" style="left:635.54px;top:1234.00px;font-size:29.5px;-webkit-text-stroke:0.3px #231f20;transform:scaleX(1.0110);color:#231f20">“percentage</div>
<div class="t" style="left:801.30px;top:1234.00px;font-size:29.5px;-webkit-text-stroke:0.3px #231f20;transform:scaleX(1.0582);color:#231f20">time</div>
<div class="t" style="left:33.88px;top:1269.00px;font-size:29.5px;-webkit-text-stroke:0.3px #231f20;transform:scaleX(0.9868);color:#231f20">depressed”</div>
<div class="t" style="left:186.14px;top:1269.00px;font-size:29.5px;-webkit-text-stroke:0.3px #231f20;transform:scaleX(0.8779);color:#231f20">as</div>
<div class="t" style="left:220.11px;top:1269.00px;font-size:29.5px;-webkit-text-stroke:0.3px #231f20;transform:scaleX(1.0420);color:#231f20">independent</div>
<div class="t" style="left:395.97px;top:1269.00px;font-size:29.5px;-webkit-text-stroke:0.3px #231f20;transform:scaleX(0.9836);color:#231f20">variable.</div>
<div class="t" style="left:8.95px;top:1298.00px;font-size:23px;-webkit-text-stroke:0.3px #231f20;transform:scaleX(1.0436);color:#231f20">b</div>
<div class="t" style="left:22.42px;top:1305.00px;font-size:29.5px;-webkit-text-stroke:0.3px #231f20;transform:scaleX(0.9726);color:#231f20">Binary</div>
<div class="t" style="left:110.37px;top:1305.00px;font-size:29.5px;-webkit-text-stroke:0.3px #231f20;transform:scaleX(1.0319);color:#231f20">logistic</div>
<div class="t" style="left:210.02px;top:1305.00px;font-size:29.5px;-webkit-text-stroke:0.3px #231f20;transform:scaleX(0.9827);color:#231f20">regression</div>
<div class="t" style="left:351.98px;top:1305.00px;font-size:29.5px;-webkit-text-stroke:0.3px #231f20;transform:scaleX(1.0171);color:#231f20">model:</div>
<div class="t" style="left:448.64px;top:1305.00px;font-size:29.5px;-webkit-text-stroke:0.3px #231f20;transform:scaleX(0.9881);color:#231f20">Maudsley</div>
<div class="t" style="left:580.01px;top:1305.00px;font-size:29.5px;-webkit-text-stroke:0.3px #231f20;transform:scaleX(1.0003);color:#231f20">Staging</div>
<div class="t" style="left:686.71px;top:1305.00px;font-size:29.5px;-webkit-text-stroke:0.3px #231f20;transform:scaleX(1.0459);color:#231f20">Method</div>
<div class="t" style="left:796.24px;top:1305.00px;font-size:29.5px;-webkit-text-stroke:0.3px #231f20;transform:scaleX(0.9591);color:#231f20">score</div>
<div class="t" style="left:872.03px;top:1305.00px;font-size:29.5px;-webkit-text-stroke:0.3px #231f20;transform:scaleX(0.8774);color:#231f20">as</div>
<div class="t" style="left:905.98px;top:1305.00px;font-size:29.5px;-webkit-text-stroke:0.3px #231f20;transform:scaleX(0.9143);color:#231f20">a</div>
<div class="t" style="left:33.89px;top:1340.00px;font-size:29.5px;-webkit-text-stroke:0.3px #231f20;transform:scaleX(1.0325);color:#231f20">dependent</div>
<div class="t" style="left:184.45px;top:1340.00px;font-size:29.5px;-webkit-text-stroke:0.3px #231f20;transform:scaleX(0.9946);color:#231f20">variable</div>
<div class="t" style="left:293.79px;top:1340.00px;font-size:29.5px;-webkit-text-stroke:0.3px #231f20;transform:scaleX(1.0089);color:#231f20">and</div>
<div class="t" style="left:350.03px;top:1340.00px;font-size:29.5px;-webkit-text-stroke:0.3px #231f20;transform:scaleX(1.0125);color:#231f20">“persistent</div>
<div class="t" style="left:496.07px;top:1340.00px;font-size:29.5px;-webkit-text-stroke:0.3px #231f20;transform:scaleX(0.9955);color:#231f20">depression”</div>
<div class="t" style="left:656.10px;top:1340.00px;font-size:29.5px;-webkit-text-stroke:0.3px #231f20;transform:scaleX(0.8739);color:#231f20">as</div>
<div class="t" style="left:689.91px;top:1340.00px;font-size:29.5px;-webkit-text-stroke:0.3px #231f20;transform:scaleX(1.0372);color:#231f20">independent</div>
<div class="t" style="left:864.96px;top:1340.00px;font-size:29.5px;-webkit-text-stroke:0.3px #231f20;transform:scaleX(0.9790);color:#231f20">variable.</div>
<div class="t" style="left:33.61px;top:1376.00px;font-size:29.5px;-webkit-text-stroke:0.3px #231f20;transform:scaleX(1.0226);color:#231f20">Both</div>
<div class="t" style="left:102.32px;top:1376.00px;font-size:29.5px;-webkit-text-stroke:0.3px #231f20;transform:scaleX(1.0166);color:#231f20">models</div>
<div class="t" style="left:205.66px;top:1376.00px;font-size:29.5px;-webkit-text-stroke:0.3px #231f20;transform:scaleX(1.0847);color:#231f20">left</div>
<div class="t" style="left:255.01px;top:1376.00px;font-size:29.5px;-webkit-text-stroke:0.3px #231f20;transform:scaleX(1.0163);color:#231f20">uncorrected.</div>
<div class="t" style="left:8.87px;top:1404.00px;font-size:23px;-webkit-text-stroke:0.3px #231f20;transform:scaleX(0.9479);color:#231f20">c</div>
<div class="t" style="left:20.34px;top:1411.00px;font-size:29.5px;-webkit-text-stroke:0.3px #231f20;transform:scaleX(0.9798);color:#231f20">Akaike</div>
<div class="t" style="left:113.75px;top:1411.00px;font-size:29.5px;-webkit-text-stroke:0.3px #231f20;transform:scaleX(1.0618);color:#231f20">information</div>
<div class="t" style="left:275.36px;top:1411.00px;font-size:29.5px;-webkit-text-stroke:0.3px #231f20;transform:scaleX(1.0478);color:#231f20">criterion</div>
<div class="t" style="left:391.94px;top:1411.00px;font-size:29.5px;-webkit-text-stroke:0.3px #231f20;transform:scaleX(0.8980);color:#231f20">(AIC):</div>
<div class="t" style="left:467.75px;top:1411.00px;font-size:29.5px;-webkit-text-stroke:0.3px #231f20;transform:scaleX(0.9489);color:#231f20">590.79.</div>
<div class="t" style="left:8.69px;top:1440.00px;font-size:23px;-webkit-text-stroke:0.3px #231f20;transform:scaleX(1.0436);color:#231f20">d</div>
<div class="t" style="left:23.14px;top:1447.00px;font-size:29.5px;-webkit-text-stroke:0.3px #231f20;transform:scaleX(0.8988);color:#231f20">AIC:</div>
<div class="t" style="left:81.39px;top:1447.00px;font-size:29.5px;-webkit-text-stroke:0.3px #231f20;transform:scaleX(0.9528);color:#231f20">595.93.</div>
<div class="t" style="left:8.77px;top:1475.00px;font-size:23px;-webkit-text-stroke:0.3px #231f20;transform:scaleX(0.9539);color:#231f20">e</div>
<div class="t" style="left:21.44px;top:1482.00px;font-size:29.5px;-webkit-text-stroke:0.3px #231f20;transform:scaleX(0.9000);color:#231f20">AIC:</div>
<div class="t" style="left:79.76px;top:1482.00px;font-size:29.5px;-webkit-text-stroke:0.3px #231f20;transform:scaleX(0.9540);color:#231f20">865.85.</div>
<div class="t" style="left:8.59px;top:1511.00px;font-size:23px;-webkit-text-stroke:0.3px #231f20;transform:scaleX(1.2462);color:#231f20">f</div>
<div class="t" style="left:17.14px;top:1518.00px;font-size:29.5px;-webkit-text-stroke:0.3px #231f20;transform:scaleX(0.8988);color:#231f20">AIC:</div>
<div class="t" style="left:75.39px;top:1518.00px;font-size:29.5px;-webkit-text-stroke:0.3px #231f20;transform:scaleX(0.9528);color:#231f20">866.95.</div>
<div class="t" style="left:10.44px;top:1553.00px;font-size:29.5px;-webkit-text-stroke:0.3px #231f20;transform:scaleX(1.0118);color:#231f20">Abbreviations:</div>
<div class="t" style="left:206.24px;top:1553.00px;font-size:29.5px;-webkit-text-stroke:0.3px #231f20;transform:scaleX(0.9549);color:#231f20">MSM</div>
<div class="t" style="left:275.56px;top:1553.00px;font-size:29.5px;-webkit-text-stroke:0.3px #231f20;transform:scaleX(1.0818);color:#231f20">=</div>
<div class="t" style="left:297.80px;top:1553.00px;font-size:29.5px;-webkit-text-stroke:0.3px #231f20;transform:scaleX(0.9922);color:#231f20">Maudsley</div>
<div class="t" style="left:429.72px;top:1553.00px;font-size:29.5px;-webkit-text-stroke:0.3px #231f20;transform:scaleX(1.0045);color:#231f20">Staging</div>
<div class="t" style="left:536.86px;top:1553.00px;font-size:29.5px;-webkit-text-stroke:0.3px #231f20;transform:scaleX(1.0304);color:#231f20">Method,</div>
<div class="t" style="left:653.32px;top:1553.00px;font-size:29.5px;-webkit-text-stroke:0.3px #231f20;transform:scaleX(0.8674);color:#231f20">OR</div>
<div class="t" style="left:695.30px;top:1553.00px;font-size:29.5px;-webkit-text-stroke:0.3px #231f20;transform:scaleX(1.0818);color:#231f20">=</div>
<div class="t" style="left:717.55px;top:1553.00px;font-size:29.5px;-webkit-text-stroke:0.3px #231f20;transform:scaleX(1.0135);color:#231f20">odds</div>
<div class="t" style="left:789.03px;top:1553.00px;font-size:29.5px;-webkit-text-stroke:0.3px #231f20;transform:scaleX(1.0158);color:#231f20">ratio.</div>
</body></html>
